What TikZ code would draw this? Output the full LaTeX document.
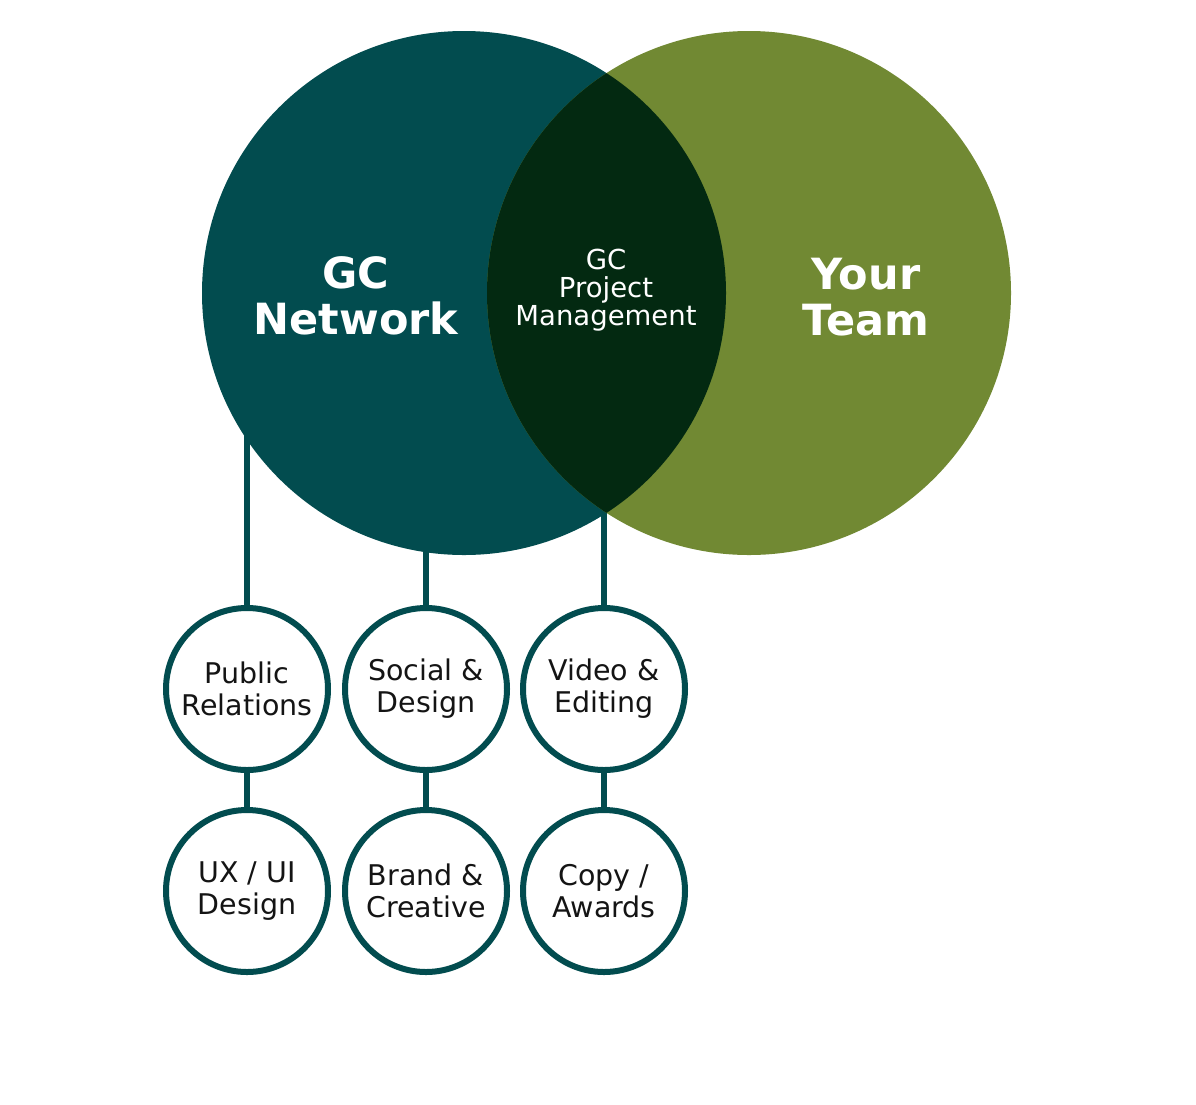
\documentclass[tikz,border=0pt]{standalone}
\usepackage{fontspec}
\setmainfont{DejaVu Sans}
\usetikzlibrary{backgrounds}
\definecolor{gcteal}{RGB}{2,76,79}
\definecolor{gcolive}{RGB}{113,137,51}
\definecolor{gcdark}{RGB}{3,41,17}
\definecolor{txtdark}{RGB}{20,20,20}
\begin{document}
\begin{tikzpicture}[x=1pt,y=-1pt,
  big/.style={circle, minimum size=524pt, inner sep=0pt},
  bigtext/.style={text=white, font=\fontsize{43}{46}\selectfont\bfseries, align=center},
  midtext/.style={text=white, font=\fontsize{27.5}{28}\selectfont, align=center},
  small/.style={circle, draw=gcteal, line width=6pt, fill=white, minimum size=162pt, inner sep=0pt,
    text=txtdark, font=\fontsize{28.5}{32}\selectfont, align=center},
  link/.style={draw=gcteal, line width=6pt}]
\useasboundingbox (0,0) rectangle (1196,1104);
% big circles
\node[big, fill=gcteal] (gc) at (464,293) {};
\node[big, fill=gcolive] (yt) at (749,293) {};
\begin{scope}
  \clip (464,293) circle[radius=262pt];
  \fill[gcdark] (749,293) circle[radius=262pt];
\end{scope}
% link start points (hidden inside the big circle / at the lens tip)
\coordinate (l1) at (247,420);
\coordinate (l2) at (426,530);
\coordinate (l3) at (604,500);
% small circles
\node[small] (pr) at (247,689) {Public\\Relations};
\node[small] (sd) at (426,689) {Social \&\\Design};
\node[small] (ve) at (604,689) {Video \&\\Editing};
\node[small] (ux) at (247,891) {UX / UI\\Design};
\node[small] (bc) at (426,891) {Brand \&\\Creative};
\node[small] (ca) at (604,891) {Copy /\\Awards};
% labels
\node[bigtext] (gct) at (356,296) {GC\\Network};
\node[bigtext] (ytt) at (866,297) {Your\\Team};
\node[midtext] (pm) at (606,290) {GC\\Project\\Management};
% connectors beneath everything
\begin{scope}[on background layer]
  \fill[white] (0,0) rectangle (1196,1104);
  \draw[link] (l1) -- (pr.north);
  \draw[link] (l2) -- (sd.north);
  \draw[link] (l3) -- (ve.north);
  \draw[link] (pr.south) -- (ux.north);
  \draw[link] (sd.south) -- (bc.north);
  \draw[link] (ve.south) -- (ca.north);
\end{scope}
\end{tikzpicture}
\end{document}
